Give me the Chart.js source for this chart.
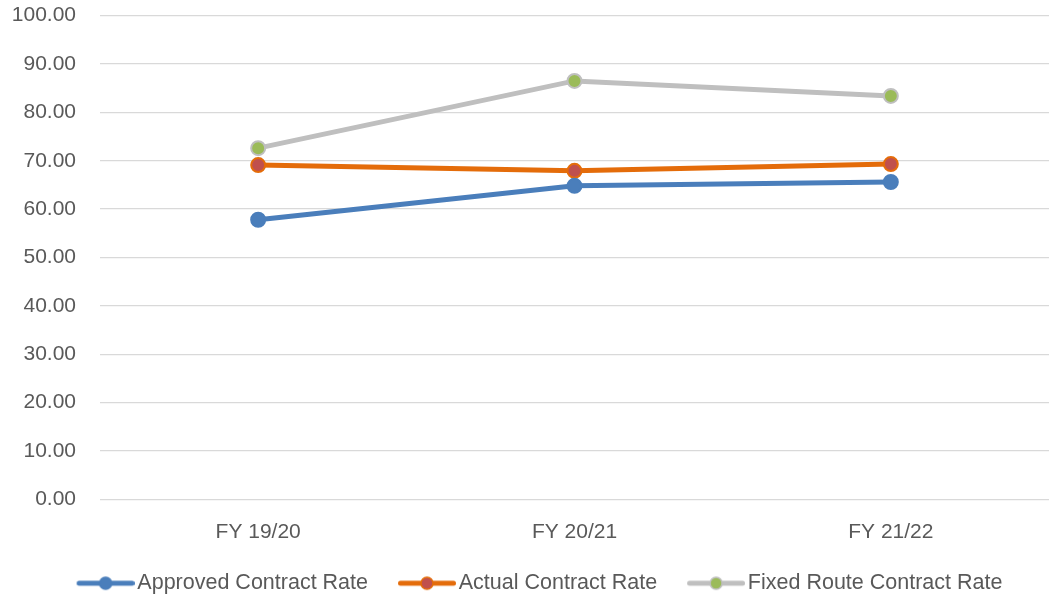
<!DOCTYPE html>
<html>
<head>
<meta charset="utf-8">
<script src="https://cdn.jsdelivr.net/npm/chart.js@4"></script>
<style>
  html, body { margin: 0; padding: 0; background: #fff; }
  #wrap { width: 1049px; height: 597px; }
</style>
</head>
<body>
<div id="wrap"><canvas id="rateChart" width="1049" height="597"></canvas></div>
<script>
const years = ['FY 19/20', 'FY 20/21', 'FY 21/22'];
const approvedRate = [57.8, 64.8, 65.6];
const actualRate = [69.1, 67.9, 69.3];
const fixedRouteRate = [72.6, 86.5, 83.4];
const yTicks = [0, 10, 20, 30, 40, 50, 60, 70, 80, 90, 100];

const FONT = 'Liberation Sans';

// legend swatch: line with a marker in the middle, drawn at the right of a wide canvas
// so the line sits close to its text
function legendSwatch(lineColor, fillColor) {
    const c = document.createElement('canvas');
    c.width = 96;
    c.height = 16;
    const g = c.getContext('2d');
    g.strokeStyle = lineColor;
    g.lineWidth = 5;
    g.lineCap = 'round';
    g.beginPath();
    g.moveTo(40.5, 8);
    g.lineTo(93.5, 8);
    g.stroke();
    g.beginPath();
    g.arc(67, 8, 6, 0, Math.PI * 2);
    g.fillStyle = fillColor;
    g.fill();
    g.lineWidth = 1.5;
    g.strokeStyle = lineColor;
    g.stroke();
    return c;
}

const series = [
    { label: 'Approved Contract Rate', data: approvedRate, line: '#4A7EBB', fill: '#4A7EBB' },
    { label: 'Actual Contract Rate', data: actualRate, line: '#E46C0A', fill: '#C0504D' },
    { label: 'Fixed Route Contract Rate', data: fixedRouteRate, line: '#BFBFBF', fill: '#9BBB59' }
];

// nudge the legend to where excel puts it
const shiftLegend = {
    id: 'shiftLegend',
    afterLayout(chart) {
        const lg = chart.legend;
        if (lg) {
            lg.left -= 5;
            lg.right -= 5;
            lg.top += 8;
            lg.bottom += 8;
        }
    }
};

const ctx = document.getElementById('rateChart').getContext('2d');
const rateChart = new Chart(ctx, {
    type: 'line',
    data: {
        labels: years,
        datasets: series.map(s => ({
            label: s.label,
            data: s.data,
            borderColor: s.line,
            backgroundColor: s.fill,
            pointBackgroundColor: s.fill,
            pointBorderColor: s.line,
            pointBorderWidth: 2,
            pointRadius: 7,
            borderWidth: 5,
            tension: 0,
            fill: false,
            pointStyle: 'circle'
        }))
    },
    options: {
        responsive: false,
        animation: false,
        layout: { autoPadding: false, padding: { top: 0, right: 0, left: 10, bottom: 1 } },
        scales: {
            x: {
                offset: true,
                grid: { display: false, drawTicks: false },
                border: { display: false },
                ticks: { color: '#595959', font: { family: FONT, size: 21 }, padding: 20 }
            },
            y: {
                min: 0,
                max: 100,
                afterBuildTicks: axis => { axis.ticks = yTicks.map(v => ({ value: v })); },
                grid: { color: '#D9D9D9', lineWidth: 1.3, drawTicks: true, tickLength: 21, tickColor: 'rgba(0,0,0,0)' },
                border: { display: false },
                afterFit: axis => { axis.width = 90; },
                ticks: {
                    color: '#595959',
                    padding: 3,
                    font: { family: FONT, size: 21 },
                    callback: v => Number(v).toFixed(2)
                }
            }
        },
        plugins: {
            tooltip: { enabled: false },
            legend: {
                position: 'bottom',
                labels: {
                    usePointStyle: true,
                    pointStyleWidth: 80,
                    padding: 0,
                    color: '#595959',
                    font: { family: FONT, size: 21.5 },
                    generateLabels: chart => series.map((s, i) => ({
                        text: s.label,
                        pointStyle: legendSwatch(s.line, s.fill),
                        fillStyle: s.fill,
                        strokeStyle: s.line,
                        lineWidth: 0,
                        hidden: false,
                        datasetIndex: i,
                        fontColor: '#595959'
                    }))
                }
            }
        }
    },
    plugins: [shiftLegend]
});
</script>
</body>
</html>
